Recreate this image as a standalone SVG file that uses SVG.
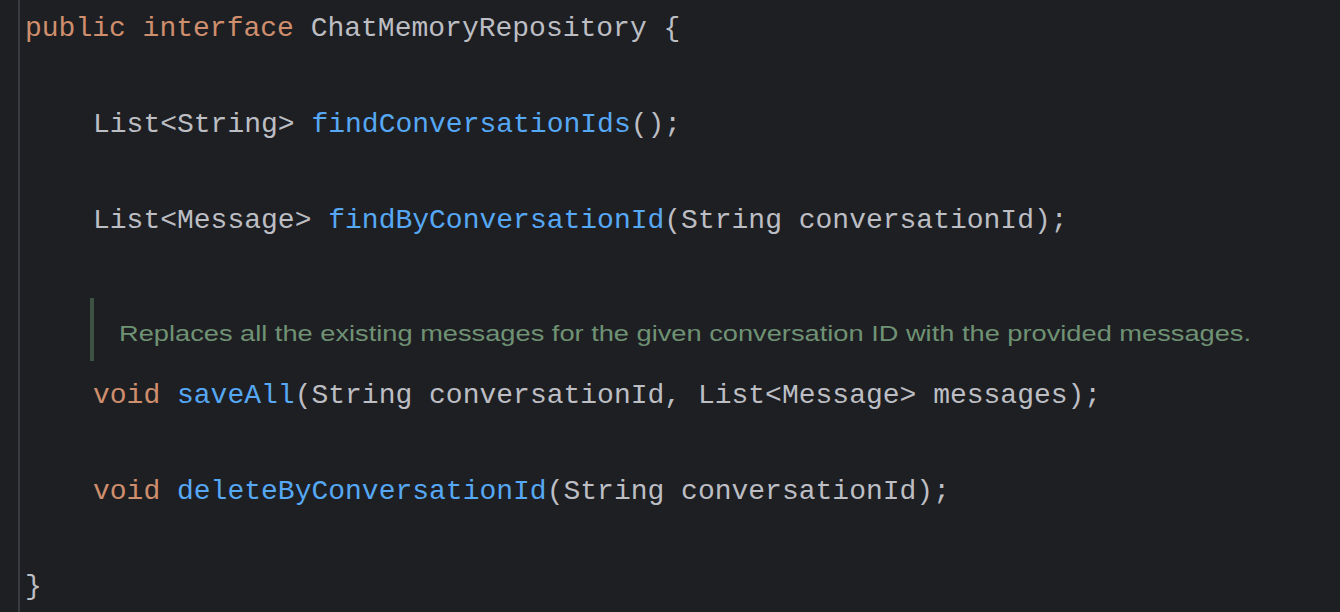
<svg xmlns="http://www.w3.org/2000/svg" width="1340" height="612" viewBox="0 0 1340 612">
<style>
.c{font-family:"Liberation Mono","DejaVu Sans Mono",monospace;font-size:28px;fill:#bcbec4;white-space:pre}
.k{fill:#cf8e6d}.f{fill:#56a8f5}
.d{font-family:"Liberation Sans","Inter",sans-serif;font-size:22px;fill:#6f9275}
</style>
<rect width="1340" height="612" fill="#1e1f22"/>
<rect x="18" y="0" width="2" height="612" fill="#393b40"/>
<g id="code">
<text class="c" x="25" y="36" xml:space="preserve"><tspan class="k">public interface </tspan>ChatMemoryRepository {</text>
<text class="c" x="93" y="132" xml:space="preserve">List&lt;String&gt; <tspan class="f">findConversationIds</tspan>();</text>
<text class="c" x="93" y="228" xml:space="preserve">List&lt;Message&gt; <tspan class="f">findByConversationId</tspan>(String conversationId);</text>
<rect x="90" y="298" width="4" height="63" fill="#3d5243"/>
<text class="d" x="119" y="341" textLength="1132" lengthAdjust="spacingAndGlyphs">Replaces all the existing messages for the given conversation ID with the provided messages.</text>
<text class="c" x="93" y="403" xml:space="preserve"><tspan class="k">void </tspan><tspan class="f">saveAll</tspan>(String conversationId, List&lt;Message&gt; messages);</text>
<text class="c" x="93" y="499" xml:space="preserve"><tspan class="k">void </tspan><tspan class="f">deleteByConversationId</tspan>(String conversationId);</text>
<text class="c" x="25" y="594">}</text>
</g>
</svg>
